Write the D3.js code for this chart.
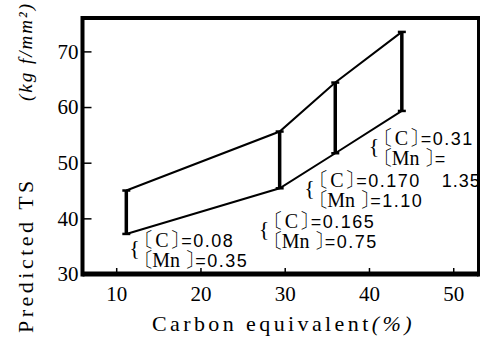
<!DOCTYPE html>
<html>
<head>
<meta charset="utf-8">
<script src="https://cdn.jsdelivr.net/npm/d3@7"></script>
</head>
<body style="margin:0">
<svg width="485" height="340" style="opacity:0.999"></svg>
<script>
// carbon equivalent (%) and predicted TS range per steel
var carbonEquivalent = [11.2, 29.4, 36.0, 43.9];
var tsMax = [45.0, 55.6, 64.4, 73.5];
var tsMin = [37.2, 45.4, 51.7, 59.3];

var carbonContent = ["0.08", "0.165", "0.170", "0.31"];
var manganeseContent = ["0.35", "0.75", "1.10", "1.35"];

var xTicks = [10, 20, 30, 40, 50];
var yTicks = [30, 40, 50, 60, 70];

var fontSerif = '"Liberation Serif"';
var fontMincho = '"Noto Serif CJK JP"';
var fontSans = '"Liberation Sans"';

// set family and size on a text selection
var font = function (sel, family, size) {
  return sel.style('font-family', family, 'important').style('font-size', size + 'px', 'important');
};

var svg = d3.select('svg');

var x = d3.scaleLinear().domain([6, 53]).range([82.5, 478.5]);
var y = d3.scaleLinear().domain([30, 76]).range([274, 18]);

// axes with inward ticks
var xAxis = svg.append('g')
  .attr('transform', 'translate(0,' + y(30) + ')')
  .call(d3.axisBottom(x).tickValues(xTicks).tickSize(-6).tickPadding(12))
  .attr('font-family', null).attr('font-size', null);
xAxis.select('.domain').remove();
xAxis.selectAll('line').attr('stroke-width', 1.5);
font(xAxis.selectAll('text'), fontSerif, 21).attr('dy', '0.72em');

var yAxis = svg.append('g')
  .attr('transform', 'translate(' + x(6) + ',0)')
  .call(d3.axisLeft(y).tickValues(yTicks).tickSize(-9).tickPadding(14))
  .attr('font-family', null).attr('font-size', null);
yAxis.select('.domain').remove();
yAxis.selectAll('line').attr('stroke-width', 1.5);
font(yAxis.selectAll('text'), fontSerif, 21).attr('text-anchor', 'end').attr('x', -4);

// frame
var frame = svg.append('g').attr('stroke', '#000').attr('fill', 'none');
frame.append('line').attr('x1', x(6)).attr('x2', x(53)).attr('y1', y(76)).attr('y2', y(76)).attr('stroke-width', 4);
frame.append('line').attr('x1', x(6)).attr('x2', x(53)).attr('y1', y(30)).attr('y2', y(30)).attr('stroke-width', 5);
frame.append('line').attr('x1', x(6)).attr('x2', x(6)).attr('y1', y(76) - 2).attr('y2', y(30) + 2.5).attr('stroke-width', 4);
frame.append('line').attr('x1', x(53)).attr('x2', x(53)).attr('y1', y(76) - 2).attr('y2', y(30) + 2.5).attr('stroke-width', 3);

var points = carbonEquivalent.map(function (ce, i) {
  return { ce: ce, hi: tsMax[i], lo: tsMin[i] };
});

var upper = d3.line().x(function (d) { return x(d.ce); }).y(function (d) { return y(d.hi); });
var lower = d3.line().x(function (d) { return x(d.ce); }).y(function (d) { return y(d.lo); });

svg.append('path').attr('d', upper(points)).attr('fill', 'none').attr('stroke', '#000').attr('stroke-width', 2);
svg.append('path').attr('d', lower(points)).attr('fill', 'none').attr('stroke', '#000').attr('stroke-width', 2);

var bars = svg.append('g').selectAll('g').data(points).enter().append('g');
bars.append('line')
  .attr('x1', function (d) { return x(d.ce); })
  .attr('x2', function (d) { return x(d.ce); })
  .attr('y1', function (d) { return y(d.hi); })
  .attr('y2', function (d) { return y(d.lo); })
  .attr('stroke', '#000').attr('stroke-width', 3.5);
['hi', 'lo'].forEach(function (k) {
  bars.append('line')
    .attr('x1', function (d) { return x(d.ce) - 4; })
    .attr('x2', function (d) { return x(d.ce) + 4; })
    .attr('y1', function (d) { return y(d[k]); })
    .attr('y2', function (d) { return y(d[k]); })
    .attr('stroke', '#000').attr('stroke-width', 2.5);
});

// composition notes: offset of the brace from each bar's lower end
var notes = [
  { dx: 4, dy: 13 },
  { dx: -20, dy: 40 },
  { dx: -30, dy: 34 },
  { dx: -32, dy: 34 }
];

// one line of a note: bracket, element, bracket, "=value"
var noteLine = function (g, yy, elem, elemX, closeX, eqX, value) {
  font(g.append('text').attr('x', 2).attr('y', yy), fontMincho, 20).text('〔');
  font(g.append('text').attr('x', elemX).attr('y', yy), fontSerif, 20).text(elem);
  font(g.append('text').attr('x', closeX).attr('y', yy), fontMincho, 20).text('〕');
  font(g.append('text').attr('x', eqX).attr('y', yy), fontSans, 18)
    .style('letter-spacing', '1.5px').text('=' + value);
};

points.forEach(function (p, i) {
  var ax = x(p.ce) + notes[i].dx;
  var ay = y(p.lo) + notes[i].dy;
  var g = svg.append('g').attr('transform', 'translate(' + ax + ',' + ay + ')');

  font(g.append('text').attr('x', -1).attr('y', 8), fontSerif, 22).text('{');

  noteLine(g, 0, 'C', 25, 41, 51, carbonContent[i]);
  if (i === 3) {
    noteLine(g, 20, 'Mn', 22, 56, 65, '');
    font(g.append('text').attr('x', 72).attr('y', 42), fontSans, 18)
      .style('letter-spacing', '1px').text(manganeseContent[i]);
  } else {
    noteLine(g, 20, 'Mn', 22, 56, 65, manganeseContent[i]);
  }
});

// axis titles
var xt = font(svg.append('text').attr('x', 152).attr('y', 331), fontSerif, 22)
  .style('letter-spacing', '3.4px');
xt.append('tspan').text('Carbon equivalent');
xt.append('tspan').style('font-style', 'italic').text('(%)');

font(svg.append('text'), fontSerif, 22)
  .attr('transform', 'translate(33,333) rotate(-90)')
  .style('letter-spacing', '3.5px')
  .text('Predicted TS');

font(svg.append('text'), fontSerif, 19)
  .attr('transform', 'translate(32,101) rotate(-90)')
  .style('font-style', 'italic').style('letter-spacing', '2px')
  .text('(kg f/mm²)');
</script>
</body>
</html>
